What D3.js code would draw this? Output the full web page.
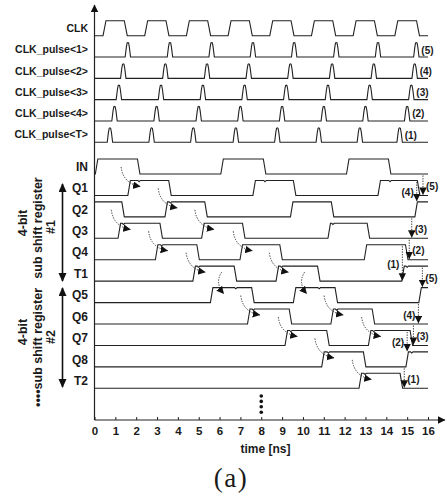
<!DOCTYPE html>
<html>
<head>
<meta charset="utf-8">
<script src="https://cdn.jsdelivr.net/npm/d3@7"></script>
<style>
body { margin: 0; background: #fff; }
text { font-family: "Liberation Sans", Arial, sans-serif; font-weight: bold; fill: #1a1a1a; }
</style>
</head>
<body>
<div id="chart"></div>
<script>
var width = 446;
var height = 497;

// clock edges (ns)
var clkRise = [0.48, 2.48, 4.48, 6.48, 8.48, 10.48, 12.48, 14.48];
var clkFall = [1.5, 3.5, 5.5, 7.5, 9.5, 11.5, 13.5, 15.52];

// pulse centres (ns), last one of each row is the end sequence (1)..(5)
var pulseNames = ["CLK_pulse<1>", "CLK_pulse<2>", "CLK_pulse<3>", "CLK_pulse<4>", "CLK_pulse<T>"];
var pulseTimes = [
  [1.6, 3.62, 5.62, 7.6, 9.58, 11.6, 13.6, 15.44],
  [1.38, 3.4, 5.4, 7.4, 9.4, 11.4, 13.4, 15.36],
  [1.17, 3.19, 5.2, 7.2, 9.2, 11.2, 13.2, 15.2],
  [0.96, 2.98, 5.0, 7.0, 9.0, 11.0, 13.0, 15.0],
  [0.74, 2.74, 4.74, 6.78, 8.77, 10.76, 12.73, 14.64]
];
var pulseTags = ["(5)", "(4)", "(3)", "(2)", "(1)"];

// shift register signals: start level and toggle times (ns)
var sigNames = ["IN", "Q1", "Q2", "Q3", "Q4", "T1", "Q5", "Q6", "Q7", "Q8", "T2"];
var sigInit = [0, 0, 1, 0, 0, 0, 0, 0, 0, 0, 0];
var sigEdges = [
  [0.1, 2.12, 6.12, 8.16, 12.15, 14.16],
  [1.66, 3.62, 7.66, 9.6, 13.66, 15.55],
  [1.37, 3.44, 5.35, 9.46, 11.42, 15.43],
  [1.19, 3.2, 5.2, 7.16, 11.26, 13.14],
  [2.98, 4.97, 7.04, 8.95, 13.0, 14.98],
  [4.78, 6.76, 8.77, 10.76, 14.8],
  [5.62, 7.6, 9.6, 11.6, 15.62],
  [7.4, 9.4, 11.4, 13.38],
  [9.2, 11.2, 13.2, 15.2],
  [10.96, 12.96, 15.0],
  [12.75, 14.72]
];

// curved dotted "capture" arrows: destination signal and time
var chainArrows = [
  ["Q3", 1.19], ["Q4", 2.98], ["T1", 4.78], ["Q5", 5.62], ["Q6", 7.4], ["Q7", 9.2], ["Q8", 10.96], ["T2", 12.75],
  ["Q1", 1.66], ["Q2", 3.44], ["Q3", 5.2], ["Q4", 7.04], ["T1", 8.77], ["Q5", 9.6], ["Q6", 11.4], ["Q7", 13.2]
];

// straight dotted arrows at the end of the sequence
var endArrows = [
  {tag: "(5)", from: "IN", to: "Q1", t: 15.76, side: "right"},
  {tag: "(4)", from: "Q1", to: "Q2", t: 15.46, side: "left"},
  {tag: "(3)", from: "Q2", to: "Q3", t: 15.22, side: "right"},
  {tag: "(2)", from: "Q3", to: "Q4", t: 15.1, side: "right"},
  {tag: "(1)", from: "Q4", to: "T1", t: 14.77, side: "left"},
  {tag: "(5)", from: "T1", to: "Q5", t: 15.73, side: "right"},
  {tag: "(4)", from: "Q5", to: "Q6", t: 15.54, side: "left"},
  {tag: "(3)", from: "Q6", to: "Q7", t: 15.3, side: "right"},
  {tag: "(2)", from: "Q7", to: "Q8", t: 15.0, side: "left"},
  {tag: "(1)", from: "Q8", to: "T2", t: 14.86, side: "right"}
];

var xTicks = d3.range(0, 17);

var svg = d3.select("#chart").append("svg")
  .attr("width", width)
  .attr("height", height);

var x = d3.scaleLinear().domain([0, 16]).range([94.5, 428]);
var topY = d3.scalePoint().domain(["CLK"].concat(pulseNames)).range([35.7, 142.3]);
var sigY = d3.scalePoint().domain(sigNames).range([174, 388.3]);
var amp = 15;

var defs = svg.append("defs");
defs.append("marker")
  .attr("id", "head")
  .attr("markerUnits", "userSpaceOnUse")
  .attr("markerWidth", 9).attr("markerHeight", 9)
  .attr("refX", 7).attr("refY", 3.75)
  .attr("orient", "auto")
  .append("path").attr("d", "M0,0L7.5,3.75L0,7.5Z").attr("fill", "#111");
defs.append("marker")
  .attr("id", "bighead")
  .attr("markerUnits", "userSpaceOnUse")
  .attr("markerWidth", 10).attr("markerHeight", 10)
  .attr("refX", 8).attr("refY", 4)
  .attr("orient", "auto-start-reverse")
  .append("path").attr("d", "M0,0L9,4L0,8Z").attr("fill", "#111");

var line = d3.line().x(function(d) { return x(d[0]); }).y(function(d) { return d[1]; });

function levelAt(init, edges, t) {
  var n = edges.filter(function(e) { return e <= t; }).length;
  return n % 2 ? 1 - init : init;
}

function stepPoints(init, edges, ramp) {
  var pts = [[0, init]];
  var lvl = init;
  edges.forEach(function(t) {
    pts.push([t - ramp, lvl]);
    lvl = 1 - lvl;
    pts.push([t + ramp, lvl]);
  });
  pts.push([16, lvl]);
  return pts;
}

// CLK
var clkEdges = clkRise.concat(clkFall).sort(d3.ascending);
var clkPts = stepPoints(0, clkEdges, 0.07);
svg.append("path")
  .attr("d", line(clkPts.map(function(p) { return [p[0], topY("CLK") - p[1] * amp]; })))
  .attr("fill", "none").attr("stroke", "#222").attr("stroke-width", 1.1);

// pulses
var pulseShape = [[-0.13, 0], [-0.07, 0.7], [-0.035, 0.97], [0, 1], [0.035, 0.97], [0.07, 0.7], [0.13, 0]];
pulseNames.forEach(function(name, i) {
  var base = topY(name);
  var pts = [[0, base]];
  pulseTimes[i].forEach(function(t) {
    pulseShape.forEach(function(s) { pts.push([t + s[0], base - s[1] * 14.5]); });
  });
  pts.push([16, base]);
  svg.append("path").attr("d", line(pts))
    .attr("fill", "none").attr("stroke", "#222").attr("stroke-width", 1.1);
  var last = pulseTimes[i][pulseTimes[i].length - 1];
  svg.append("text")
    .attr("x", x(last) + 5).attr("y", base - 7).attr("dy", "0.35em")
    .style("font-size", "10px").text(pulseTags[i]);
});

svg.selectAll(".toplab")
  .data(["CLK"].concat(pulseNames))
  .enter().append("text")
  .attr("x", 88).attr("y", function(d) { return topY(d) - 7.5; })
  .attr("dy", "0.35em").attr("text-anchor", "end")
  .style("font-size", "10.5px")
  .text(function(d) { return d; });

// signals
sigNames.forEach(function(name, i) {
  var low = sigY(name);
  var pts = stepPoints(sigInit[i], sigEdges[i], 0.06);
  if (i > 0) {
    // small dips on a high level when the previous stage falls
    var src = sigEdges[i - 1];
    src.forEach(function(s) {
      if (levelAt(sigInit[i - 1], src, s) !== 0) return;
      if (levelAt(sigInit[i], sigEdges[i], s) !== 1) return;
      var near = sigEdges[i].some(function(e) { return Math.abs(e - s) < 0.15; });
      if (near) return;
      pts.push([s - 0.04, 1], [s + 0.02, 0.92], [s + 0.08, 1]);
    });
    pts.sort(function(a, b) { return a[0] - b[0]; });
  }
  svg.append("path")
    .attr("d", line(pts.map(function(p) { return [p[0], low - p[1] * amp]; })))
    .attr("fill", "none").attr("stroke", "#222").attr("stroke-width", 1.1);
});

svg.selectAll(".siglab")
  .data(sigNames)
  .enter().append("text")
  .attr("x", 88).attr("y", function(d) { return sigY(d) - 7.5; })
  .attr("dy", "0.35em").attr("text-anchor", "end")
  .style("font-size", "12px")
  .text(function(d) { return d; });

// curved capture arrows
chainArrows.forEach(function(a) {
  var i = sigNames.indexOf(a[0]);
  var src = sigNames[i - 1];
  var xt = x(a[1]);
  var x0, y0, x1, y1, cx, cy;
  if (a[0] === "Q5") {
    x0 = xt + 10; y0 = sigY(src) - 9;
    x1 = xt + 12; y1 = sigY(a[0]) - 9;
    cx = xt + 3; cy = (y0 + y1) / 2;
  } else {
    x0 = xt - 8; y0 = sigY(src) - 7;
    x1 = xt + 11; y1 = sigY(a[0]) - 9;
    cx = x0 + 2; cy = y1 - 3;
  }
  svg.append("path")
    .attr("d", "M" + x0 + "," + y0 + "Q" + cx + "," + cy + " " + x1 + "," + y1)
    .attr("fill", "none").attr("stroke", "#222").attr("stroke-width", 0.9)
    .attr("stroke-dasharray", "1.3,1.3")
    .attr("marker-end", "url(#head)");
});

// end arrows
endArrows.forEach(function(a) {
  var si = sigNames.indexOf(a.from), di = sigNames.indexOf(a.to);
  var y0 = sigY(a.from) - levelAt(sigInit[si], sigEdges[si], a.t) * amp + 1.5;
  var y1 = sigY(a.to) - levelAt(sigInit[di], sigEdges[di], a.t) * amp - 1;
  var xa = x(a.t);
  svg.append("line")
    .attr("x1", xa).attr("x2", xa).attr("y1", y0).attr("y2", y1)
    .attr("stroke", "#222").attr("stroke-width", 0.9)
    .attr("stroke-dasharray", "1.3,1.3")
    .attr("marker-end", "url(#head)");
  svg.append("text")
    .attr("x", a.side === "right" ? xa + 3 : xa - 3)
    .attr("y", (y0 + y1) / 2 + 1.5).attr("dy", "0.35em")
    .attr("text-anchor", a.side === "right" ? "start" : "end")
    .style("font-size", "10px").text(a.tag);
});

// axes
var xAxis = d3.axisBottom(x).tickValues(xTicks).tickSizeInner(-3).tickSizeOuter(0).tickPadding(7);
var gx = svg.append("g").attr("transform", "translate(0,420)").call(xAxis);
gx.select(".domain").remove();
gx.selectAll(".tick line").attr("stroke", "#222");
gx.selectAll(".tick text").style("font-size", "11.5px").attr("fill", "#1a1a1a")
  .style("font-family", "'Liberation Sans', Arial, sans-serif").style("font-weight", "bold");

svg.append("line")
  .attr("x1", x(0)).attr("x2", 445).attr("y1", 420).attr("y2", 420)
  .attr("stroke", "#222").attr("stroke-width", 1.2).attr("marker-end", "url(#head)");
svg.append("line")
  .attr("x1", x(0)).attr("x2", x(0)).attr("y1", 420).attr("y2", 5)
  .attr("stroke", "#222").attr("stroke-width", 1.2).attr("marker-end", "url(#head)");

svg.append("text")
  .attr("x", x(8.2)).attr("y", 453)
  .attr("text-anchor", "middle")
  .style("font-size", "12px")
  .text("time [ns]");

// vertical dots at 8 ns
svg.selectAll(".vdot")
  .data([0, 1, 2, 3])
  .enter().append("circle")
  .attr("cx", x(8)).attr("cy", function(d) { return 396 + d * 5.4; })
  .attr("r", 1.8).attr("fill", "#111");

// register brackets
function bracket(y0, y1) {
  svg.append("line")
    .attr("x1", 62.5).attr("x2", 62.5).attr("y1", y0 + 1).attr("y2", y1 - 1)
    .attr("stroke", "#111").attr("stroke-width", 1.6)
    .attr("marker-start", "url(#bighead)").attr("marker-end", "url(#bighead)");
}
bracket(183, 282);
bracket(287, 388);

function rotText(xb, yc, anchor, str) {
  svg.append("text")
    .attr("transform", "translate(" + xb + "," + yc + ") rotate(-90)")
    .attr("text-anchor", anchor)
    .style("font-size", "12.5px")
    .text(str);
}
rotText(27, 223, "middle", "4-bit");
rotText(41.5, 228, "middle", "sub shift register");
rotText(55, 227, "middle", "#1");
rotText(27, 332, "middle", "4-bit");
rotText(41.5, 288, "end", "••••sub shift register");
rotText(55, 337, "middle", "#2");

svg.append("text")
  .attr("x", 231).attr("y", 487)
  .attr("text-anchor", "middle")
  .style("font-family", "'Liberation Serif', 'Times New Roman', serif")
  .style("font-weight", "normal")
  .style("font-size", "27px")
  .style("letter-spacing", "1.5px")
  .text("(a)");
</script>
</body>
</html>
